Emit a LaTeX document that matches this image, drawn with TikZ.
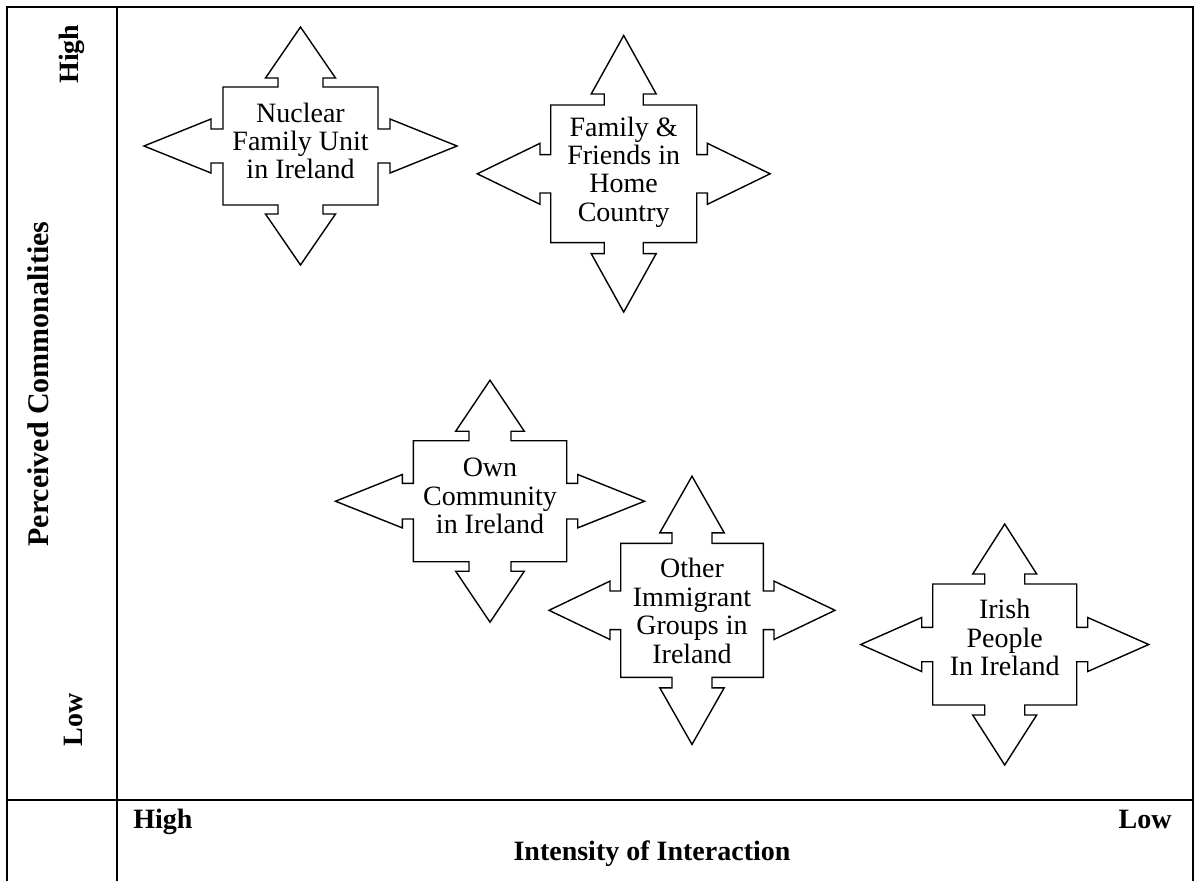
\documentclass[tikz,border=0pt]{standalone}
\usepackage{fontspec}
\setmainfont{Liberation Serif}

% geometry keys of a four-way arrow: central rectangle, vertical and horizontal arms
\pgfkeys{/qa/.cd,
  rw/.store in=\qaRW, rh/.store in=\qaRH,
  vsw/.store in=\qaVSW, vhw/.store in=\qaVHW, vsl/.store in=\qaVSL, vhl/.store in=\qaVHL,
  hsh/.store in=\qaHSH, hhh/.store in=\qaHHH, hsl/.store in=\qaHSL, hhl/.store in=\qaHHL}

% #1 centre, #2 geometry keys
\newcommand\quadarrow[2]{%
  \pgfkeys{/qa/.cd,#2}%
  \pgfmathsetmacro\qaYA{\qaRH+\qaVSL}%
  \pgfmathsetmacro\qaYT{\qaRH+\qaVSL+\qaVHL}%
  \pgfmathsetmacro\qaXA{\qaRW+\qaHSL}%
  \pgfmathsetmacro\qaXT{\qaRW+\qaHSL+\qaHHL}%
  \draw[quad, shift={#1}]
    (0,-\qaYT) -- (\qaVHW,-\qaYA) -- (\qaVSW,-\qaYA) -- (\qaVSW,-\qaRH)
    -- (\qaRW,-\qaRH) -- (\qaRW,-\qaHSH) -- (\qaXA,-\qaHSH) -- (\qaXA,-\qaHHH)
    -- (\qaXT,0) -- (\qaXA,\qaHHH) -- (\qaXA,\qaHSH) -- (\qaRW,\qaHSH)
    -- (\qaRW,\qaRH) -- (\qaVSW,\qaRH) -- (\qaVSW,\qaYA) -- (\qaVHW,\qaYA)
    -- (0,\qaYT) -- (-\qaVHW,\qaYA) -- (-\qaVSW,\qaYA) -- (-\qaVSW,\qaRH)
    -- (-\qaRW,\qaRH) -- (-\qaRW,\qaHSH) -- (-\qaXA,\qaHSH) -- (-\qaXA,\qaHHH)
    -- (-\qaXT,0) -- (-\qaXA,-\qaHHH) -- (-\qaXA,-\qaHSH) -- (-\qaRW,-\qaHSH)
    -- (-\qaRW,-\qaRH) -- (-\qaVSW,-\qaRH) -- (-\qaVSW,-\qaYA) -- (-\qaVHW,-\qaYA)
    -- cycle;
}

\begin{document}
\begin{tikzpicture}[x=0.5pt,y=-0.5pt,
  frame/.style={line width=1pt},
  quad/.style={draw, line width=0.7pt, line join=miter, fill=white},
  quadtext/.style={align=center, inner sep=0pt,
    font=\fontsize{14}{14.2}\selectfont},
  axislabel/.style={inner sep=0pt, font=\fontsize{14}{16}\selectfont\bfseries},
  axistitle/.style={inner sep=0pt, font=\fontsize{15}{17}\selectfont\bfseries}]

\useasboundingbox (0,0) rectangle (1195,880);
\clip (0,0) rectangle (1195,880);

% table frame
\draw[frame] (7,890) -- (7,7) -- (1193,7) -- (1193,890);
\draw[frame] (117,7) -- (117,890);
\draw[frame] (7,800) -- (1193,800);

% axis labels
\node[axislabel, rotate=90] (yhigh) at (72,54) {High};
\node[axislabel, rotate=90] (ylow) at (73,720) {Low};
\node[axistitle, rotate=90] (ytitle) at (38,384) {Perceived Commonalities};
\node[axislabel, anchor=base west] (xhigh) at (133,828) {High};
\node[axislabel, anchor=base east] (xlow) at (1172,828) {Low};
\node[axislabel, anchor=base] (xtitle) at (652,860) {Intensity of Interaction};

% four-way arrows
\quadarrow{(300.5,146)}{rw=77.5, rh=59, vsw=22.5, vhw=35, vsl=9, vhl=51,
  hsh=17, hhh=27, hsl=12, hhl=67}
\node[quadtext] (nuclear) at (300.5,141) {Nuclear\\Family Unit\\in Ireland};

\quadarrow{(623.7,173.8)}{rw=73, rh=68.8, vsw=19.5, vhw=32.5, vsl=11, vhl=58.5,
  hsh=19.2, hhh=30.5, hsl=10.7, hhl=62.7}
\node[quadtext] (home) at (623.7,172) {Family \&\\Friends in\\Home\\Country};

\quadarrow{(490,501.2)}{rw=76.7, rh=60.5, vsw=21, vhw=34.3, vsl=9.5, vhl=51,
  hsh=17.8, hhh=26.7, hsl=11, hhl=66.8}
\node[quadtext] (own) at (490,496) {Own\\Community\\in Ireland};

\quadarrow{(692,610.3)}{rw=71.3, rh=67, vsw=20, vhw=32.2, vsl=10.5, vhl=56.6,
  hsh=19.3, hhh=29.2, hsl=10.7, hhl=61}
\node[quadtext] (other) at (692,611) {Other\\Immigrant\\Groups in\\Ireland};

\quadarrow{(1004.7,644.5)}{rw=72, rh=60.5, vsw=20, vhw=32, vsl=10, vhl=50,
  hsh=17.2, hhh=27, hsl=11, hhl=61}
\node[quadtext] (irish) at (1004.7,637.5) {Irish\\People\\In Ireland};

\end{tikzpicture}
\end{document}
